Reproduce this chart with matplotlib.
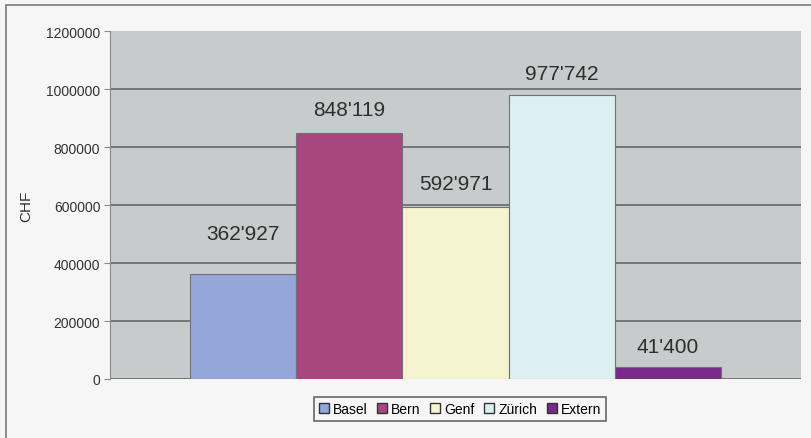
import matplotlib
matplotlib.use("Agg")
import matplotlib.pyplot as plt
from matplotlib.patches import Rectangle

# Beträge je Standort (CHF)
standorte = ["Basel", "Bern", "Genf", "Zürich", "Extern"]
betraege = [362927, 848119, 592971, 977742, 41400]
y_ticks = [0, 200000, 400000, 600000, 800000, 1000000, 1200000]
farben = ["#94a6da", "#a8467f", "#f5f4d0", "#dcf0f1", "#7a2a8a"]
label_abstand = [22, 10, 10, 9, 8]  # Punkte über dem Balken

plt.rcParams["font.family"] = ["Liberation Sans", "DejaVu Sans"]

fig = plt.figure(figsize=(8.12, 4.39), dpi=100)
fig.patch.set_facecolor("#f6f6f6")

# dünner Rahmen um die Grafik (rechts/unten abgeschnitten)
fig.add_artist(Rectangle((6 / 812, -0.05), 1.1, 1 - 6 / 439 + 0.05,
                         transform=fig.transFigure, fill=False,
                         edgecolor="#7a7a7a", linewidth=1.2))

ax = fig.add_axes([110 / 812, 1 - 380 / 439, (801 - 110) / 812, (380 - 32) / 439])
ax.set_facecolor("#c8cbcb")

x = list(range(len(standorte)))
bars = ax.bar(x, betraege, width=1.0, color=farben, edgecolor="#6f7378",
              linewidth=0.8, zorder=3)

for rect, wert, off in zip(bars, betraege, label_abstand):
    txt = f"{wert:,}".replace(",", "'")
    ax.annotate(txt, (rect.get_x() + rect.get_width() / 2, rect.get_height()),
                xytext=(0, off), textcoords="offset points",
                ha="center", va="bottom", fontsize=15, color="#2e2e2e", zorder=4)

ax.set_xlim(-1.255, 5.255)
ax.set_ylim(0, 1200000)
ax.set_yticks(y_ticks)
ax.set_yticklabels([str(v) for v in y_ticks], fontsize=10, color="#333333")
ax.set_xticks([])
ax.yaxis.grid(True, color="#6e6e6e", linewidth=1.3, zorder=1)
ax.set_axisbelow(True)
ax.get_ygridlines()[-1].set_visible(False)
ax.tick_params(axis="y", length=4, width=0.8, color="#8a8a8a", pad=3)

for s in ["top", "right", "bottom"]:
    ax.spines[s].set_visible(False)
ax.spines["left"].set_color("#8a8a8a")
ax.spines["left"].set_linewidth(0.8)

ax.set_ylabel("CHF", fontsize=11, color="#333333", labelpad=9)

handles = [Rectangle((0, 0), 1, 1, facecolor=c, edgecolor="#333333", linewidth=1.0)
           for c in farben]
leg = fig.legend(handles, standorte, loc="center", bbox_to_anchor=(460 / 812, 1 - 410 / 439),
                 ncol=5, fontsize=10, frameon=True, fancybox=False,
                 handlelength=0.7, handleheight=0.7, handletextpad=0.3,
                 columnspacing=0.7, borderpad=0.35)
leg.get_frame().set_edgecolor("#444444")
leg.get_frame().set_linewidth(1.2)
leg.get_frame().set_facecolor("#f6f6f6")

fig.savefig("out.png", dpi=100, facecolor=fig.get_facecolor())
